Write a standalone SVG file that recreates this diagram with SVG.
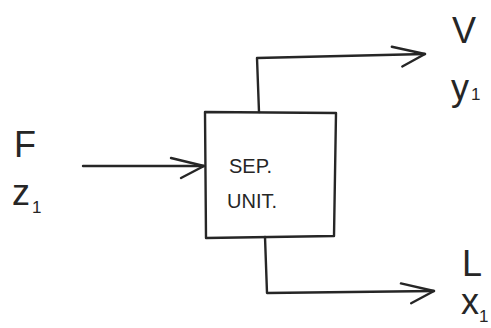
<svg xmlns="http://www.w3.org/2000/svg" width="491" height="328" viewBox="0 0 491 328">
  <style>
    .ln { fill: none; stroke: #262626; stroke-width: 2.4; stroke-linecap: round; stroke-linejoin: round; }
    .lbl { font-family: "Liberation Sans", Arial, sans-serif; font-size: 36px; fill: #262626; }
    .sub { font-family: "Liberation Sans", Arial, sans-serif; font-size: 17px; fill: #262626; }
    .unit { font-family: "Liberation Sans", Arial, sans-serif; font-size: 20px; fill: #262626; }
  </style>
  <defs>
    <!-- open hand-drawn style arrowhead -->
    <marker id="head" viewBox="-36 -14 40 28" refX="0" refY="0" markerWidth="40" markerHeight="28" markerUnits="userSpaceOnUse" orient="auto">
      <path d="M-33,-8 L0,0 L-23,12" fill="none" stroke="#262626" stroke-width="2.4" stroke-linecap="round" stroke-linejoin="round"/>
    </marker>
  </defs>
  <rect width="491" height="328" fill="#ffffff"/>

  <!-- separation unit -->
  <g id="sep-unit">
    <path class="ln" d="M205,112 L336,113 L334,236 L206,238 Z"/>
    <text class="unit" x="229" y="173">SEP.</text>
    <text class="unit" x="227" y="208">UNIT.</text>
  </g>

  <!-- stream labels -->
  <g id="feed">
    <text class="lbl" x="14" y="157">F</text>
    <text class="lbl" x="12" y="205">z</text>
    <text class="sub" x="32" y="213">1</text>
  </g>
  <g id="vapor">
    <text class="lbl" x="452" y="43">V</text>
    <text class="lbl" x="451" y="100">y</text>
    <text class="sub" x="471" y="100">1</text>
  </g>
  <g id="liquid">
    <text class="lbl" x="462" y="276">L</text>
    <text class="lbl" x="461" y="314">x</text>
    <text class="sub" x="479" y="322">1</text>
  </g>

  <!-- streams -->
  <g id="connectors">
    <path class="ln" d="M83,166 L204,166" marker-end="url(#head)"/>
    <path class="ln" d="M259,112 L257,58 L425,54" marker-end="url(#head)"/>
    <path class="ln" d="M265,237 L267,293 L434,291" marker-end="url(#head)"/>
  </g>
</svg>
